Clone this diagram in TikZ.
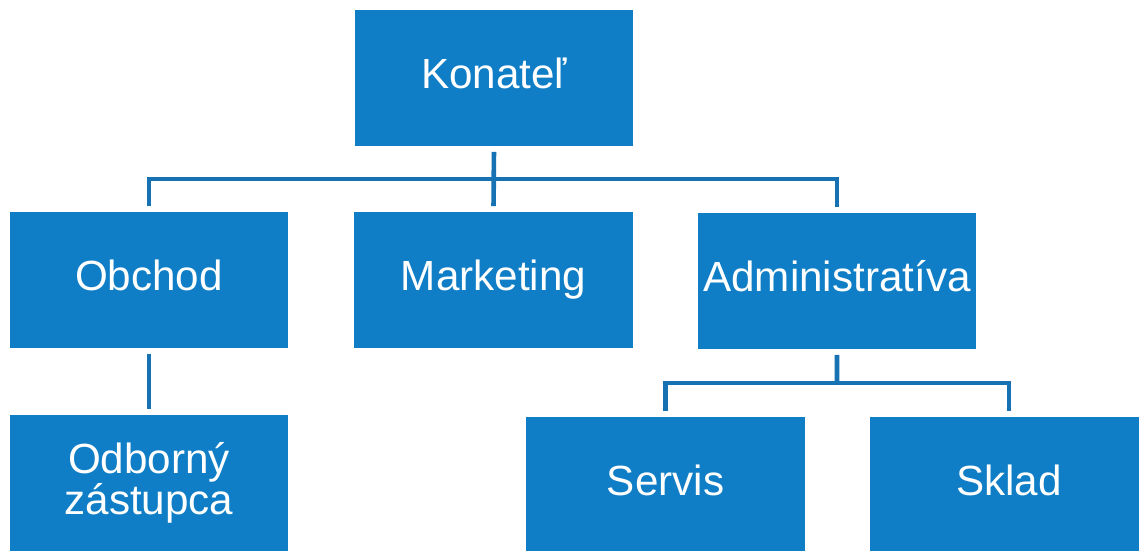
\documentclass[tikz,border=0pt]{standalone}
\usepackage{fontspec}
\setmainfont{Liberation Sans}
\usetikzlibrary{calc}
\definecolor{boxblue}{RGB}{15,126,198}
\definecolor{lineblue}{RGB}{22,114,178}

\begin{document}
\begin{tikzpicture}[x=0.025cm,y=-0.025cm,
    box/.style={fill=boxblue,text=white,minimum width=6.95cm,minimum height=3.4cm,
      inner sep=0pt,align=center,font=\fontsize{30}{29.5}\selectfont},
    oneline/.style={box,text height=21.6pt,text depth=6.3pt},
    link/.style={draw=lineblue,line width=3.3pt,shorten <=0.14cm,shorten >=0.14cm}]
    \useasboundingbox (0,0) rectangle (1139,551);
    \clip (0,0) rectangle (1139,551);
    % boxes
    \node[oneline] (kon) at (494,78) {Konateľ};
    \node[oneline] (obc) at (149,280) {Obchod};
    \node[oneline] (mkt) at (493.5,280) {Marketing};
    \node[oneline] (adm) at (837,281) {Administratíva};
    \node[box] (odb) at (149,483) {Odborný\\zástupca};
    \node[oneline] (srv) at (665.5,485) {Servis};
    \node[oneline] (skl) at (1009,485) {Sklad};
    % connectors
    \coordinate (bus1) at ($(kon.south)!0.5!(mkt.north)$);
    \draw[link] (kon.south) -- (mkt.north);
    \draw[link] (obc.north) |- (bus1) -| (adm.north);
    \draw[link] (obc.south) -- (odb.north);
    \coordinate (bus2) at ($(adm.south)!0.5!(adm.south |- srv.north)$);
    \draw[link,shorten >=0pt] (adm.south) -- (bus2);
    \draw[link] (srv.north) |- (bus2) -| (skl.north);
\end{tikzpicture}
\end{document}
